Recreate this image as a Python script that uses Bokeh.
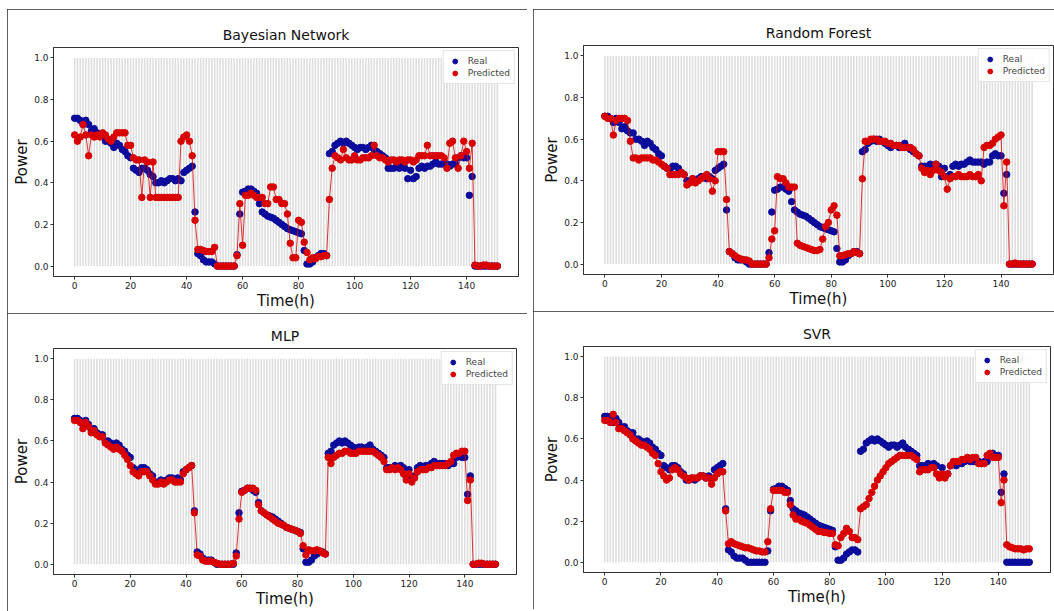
from bokeh.plotting import figure
from bokeh.models import Range1d, FixedTicker, PrintfTickFormatter, ColumnDataSource, Spacer
from bokeh.layouts import row, column
from bokeh.embed import file_html
from bokeh.resources import INLINE

hours = list(range(152))

real = [
    0.71, 0.71, 0.70, 0.68, 0.70, 0.68, 0.65, 0.66, 0.64, 0.63,
    0.63, 0.60, 0.60, 0.59, 0.57, 0.59, 0.58, 0.56, 0.55, 0.53,
    0.52, 0.47, 0.46, 0.45, 0.47, 0.47, 0.46, 0.44, 0.43, 0.40,
    0.40, 0.41, 0.40, 0.41, 0.42, 0.42, 0.41, 0.42, 0.41, 0.45,
    0.46, 0.47, 0.48, 0.26, 0.06, 0.05, 0.03, 0.02, 0.02, 0.02,
    0.01, 0.00, 0.00, 0.00, 0.00, 0.00, 0.00, 0.00, 0.055, 0.25,
    0.355, 0.36, 0.37, 0.37, 0.36, 0.35, 0.30, 0.26, 0.25, 0.24,
    0.235, 0.23, 0.22, 0.21, 0.20, 0.19, 0.18, 0.175, 0.17, 0.165,
    0.16, 0.155, 0.075, 0.01, 0.01, 0.02, 0.04, 0.05, 0.06, 0.06,
    0.05, 0.54, 0.55, 0.58, 0.59, 0.60, 0.59, 0.60, 0.59, 0.58,
    0.57, 0.56, 0.57, 0.57, 0.56, 0.57, 0.58, 0.56, 0.55, 0.54,
    0.53, 0.52, 0.47, 0.47, 0.47, 0.48, 0.47, 0.48, 0.47, 0.42,
    0.46, 0.42, 0.43, 0.47, 0.48, 0.47, 0.48, 0.48, 0.49, 0.50,
    0.49, 0.49, 0.49, 0.49, 0.48, 0.49, 0.49, 0.52, 0.53, 0.52,
    0.52, 0.34, 0.43, 0.0, 0.0, 0.0, 0.0, 0.0, 0.0, 0.0,
    0.0, 0.0,
]

pred_bn = [
    0.63, 0.60, 0.62, 0.68, 0.63, 0.53, 0.63, 0.62, 0.63, 0.62,
    0.64, 0.63, 0.61, 0.60, 0.62, 0.64, 0.64, 0.64, 0.64, 0.58,
    0.58, 0.52, 0.51, 0.51, 0.33, 0.51, 0.50, 0.33, 0.50, 0.33,
    0.33, 0.33, 0.33, 0.33, 0.33, 0.33, 0.33, 0.33, 0.60, 0.62,
    0.63, 0.60, 0.53, 0.22, 0.08, 0.08, 0.075, 0.07, 0.07, 0.07,
    0.09, 0.0, 0.0, 0.0, 0.0, 0.0, 0.0, 0.0, 0.05, 0.30,
    0.10, 0.34, 0.34, 0.35, 0.34, 0.33, 0.33, 0.33, 0.30, 0.30,
    0.38, 0.38, 0.32, 0.32, 0.30, 0.30, 0.25, 0.11, 0.04, 0.04,
    0.22, 0.21, 0.115, 0.065, 0.03, 0.04, 0.035, 0.045, 0.045, 0.05,
    0.05, 0.32, 0.47, 0.53, 0.52, 0.51, 0.56, 0.52, 0.51, 0.51,
    0.53, 0.51, 0.51, 0.52, 0.52, 0.52, 0.53, 0.58, 0.53, 0.52,
    0.52, 0.51, 0.50, 0.51, 0.51, 0.50, 0.51, 0.51, 0.50, 0.51,
    0.51, 0.50, 0.51, 0.53, 0.53, 0.53, 0.58, 0.53, 0.53, 0.53,
    0.53, 0.53, 0.52, 0.47, 0.59, 0.60, 0.52, 0.47, 0.53, 0.60,
    0.55, 0.47, 0.59, 0.005, 0.0, 0.0, 0.005, 0.005, 0.0, 0.0,
    0.0, 0.0,
]

pred_rf = [
    0.71, 0.70, 0.70, 0.62, 0.69, 0.70, 0.70, 0.70, 0.69, 0.59,
    0.51, 0.51, 0.50, 0.51, 0.51, 0.51, 0.51, 0.50, 0.50, 0.49,
    0.48, 0.47, 0.46, 0.43, 0.43, 0.43, 0.43, 0.44, 0.43, 0.38,
    0.39, 0.41, 0.39, 0.40, 0.41, 0.42, 0.43, 0.41, 0.35, 0.40,
    0.54, 0.54, 0.54, 0.31, 0.06, 0.05, 0.04, 0.03, 0.025, 0.02,
    0.02, 0.015, 0.0, 0.0, 0.0, 0.0, 0.0, 0.0, 0.03, 0.12,
    0.16, 0.42, 0.41, 0.41, 0.39, 0.37, 0.37, 0.37, 0.10, 0.09,
    0.085, 0.08, 0.075, 0.07, 0.065, 0.065, 0.07, 0.12, 0.18, 0.20,
    0.26, 0.28, 0.235, 0.04, 0.04, 0.045, 0.05, 0.05, 0.06, 0.055,
    0.05, 0.41, 0.59, 0.59, 0.60, 0.60, 0.60, 0.59, 0.59, 0.59,
    0.58, 0.58, 0.57, 0.57, 0.57, 0.56, 0.56, 0.56, 0.56, 0.55,
    0.53, 0.52, 0.46, 0.44, 0.45, 0.43, 0.45, 0.48, 0.45, 0.44,
    0.42, 0.36, 0.41, 0.42, 0.42, 0.43, 0.42, 0.42, 0.42, 0.43,
    0.42, 0.42, 0.43, 0.40, 0.56, 0.57, 0.57, 0.58, 0.60, 0.61,
    0.62, 0.28, 0.49, 0.0, 0.0, 0.005, 0.0, 0.0, 0.0, 0.0,
    0.0, 0.0,
]

pred_mlp = [
    0.70, 0.70, 0.69, 0.66, 0.69, 0.67, 0.64, 0.65, 0.63, 0.62,
    0.62, 0.59, 0.58, 0.57, 0.56, 0.57, 0.56, 0.55, 0.53, 0.51,
    0.48, 0.45, 0.44, 0.43, 0.45, 0.45, 0.45, 0.43, 0.41, 0.39,
    0.39, 0.40, 0.39, 0.40, 0.41, 0.41, 0.40, 0.40, 0.40, 0.44,
    0.46, 0.47, 0.48, 0.25, 0.045, 0.04, 0.02, 0.015, 0.015, 0.015,
    0.01, 0.005, 0.0, 0.0, 0.0, 0.0, 0.0, 0.005, 0.04, 0.22,
    0.35, 0.36, 0.37, 0.37, 0.37, 0.36, 0.29, 0.26, 0.25, 0.24,
    0.23, 0.22, 0.21, 0.20, 0.195, 0.19, 0.18, 0.175, 0.17, 0.165,
    0.16, 0.15, 0.09, 0.045, 0.07, 0.065, 0.065, 0.07, 0.065, 0.055,
    0.05, 0.52, 0.49, 0.52, 0.53, 0.54, 0.54, 0.55, 0.55, 0.54,
    0.54, 0.54, 0.55, 0.55, 0.55, 0.55, 0.55, 0.55, 0.54, 0.53,
    0.52, 0.50, 0.46, 0.46, 0.47, 0.46, 0.47, 0.46, 0.44, 0.41,
    0.44, 0.40, 0.42, 0.45, 0.46, 0.46, 0.46, 0.47, 0.47, 0.48,
    0.48, 0.48, 0.48, 0.48, 0.49, 0.50, 0.53, 0.54, 0.54, 0.55,
    0.55, 0.31, 0.41, 0.0, 0.0, 0.005, 0.005, 0.0, 0.0, 0.0,
    0.0, 0.0,
]

pred_svr = [
    0.69, 0.69, 0.68, 0.72, 0.68, 0.65, 0.65, 0.64, 0.63, 0.62,
    0.60, 0.59, 0.58, 0.57, 0.57, 0.56, 0.55, 0.53, 0.52, 0.48,
    0.44, 0.42, 0.40, 0.41, 0.45, 0.46, 0.45, 0.43, 0.42, 0.41,
    0.40, 0.41, 0.41, 0.41, 0.42, 0.42, 0.41, 0.41, 0.38, 0.41,
    0.43, 0.44, 0.44, 0.25, 0.09, 0.10, 0.09, 0.085, 0.08, 0.075,
    0.07, 0.07, 0.065, 0.06, 0.055, 0.055, 0.05, 0.05, 0.10, 0.26,
    0.35, 0.35, 0.35, 0.35, 0.34, 0.34, 0.28, 0.23, 0.21, 0.21,
    0.20, 0.195, 0.19, 0.18, 0.17, 0.16, 0.15, 0.15, 0.145, 0.145,
    0.14, 0.14, 0.085, 0.08, 0.12, 0.14, 0.165, 0.15, 0.12, 0.12,
    0.11, 0.26, 0.27, 0.28, 0.31, 0.34, 0.37, 0.40, 0.42, 0.44,
    0.46, 0.48, 0.49, 0.50, 0.51, 0.52, 0.52, 0.52, 0.52, 0.52,
    0.51, 0.50, 0.44, 0.45, 0.45, 0.45, 0.46, 0.46, 0.43, 0.41,
    0.43, 0.41, 0.43, 0.47, 0.49, 0.49, 0.49, 0.50, 0.50, 0.51,
    0.50, 0.51, 0.51, 0.48, 0.48, 0.48, 0.52, 0.53, 0.51, 0.51,
    0.51, 0.29, 0.40, 0.085, 0.075, 0.07, 0.065, 0.065, 0.065, 0.06,
    0.065, 0.065,
]

titles = ["Bayesian Network", "Random Forest", "MLP", "SVR"]
x_ticks = [0, 20, 40, 60, 80, 100, 120, 140]
y_ticks = [0.0, 0.2, 0.4, 0.6, 0.8, 1.0]

FONT = "DejaVu Sans"
BLUE = "#0b0b9c"
RED = "#d80000"


def make_panel(title, pred, fw, fh, bl, br, bt, bb):
    src = ColumnDataSource(dict(t=hours, real=real, pred=pred))
    p = figure(
        frame_width=fw, frame_height=fh,
        min_border_left=bl, min_border_right=br,
        min_border_top=bt, min_border_bottom=bb,
        x_range=Range1d(-7.55, 158.55), y_range=Range1d(-0.05, 1.05),
        output_backend="svg", toolbar_location=None, title=title,
        styles={"outline": "1px solid #2a2a2a", "outline-offset": "-1px"},
    )
    p.segment(x0="t", y0=0, x1="t", y1=1, source=src,
              line_color="#dedede", line_width=1.6)
    p.scatter("t", "real", source=src, size=6.5, color=BLUE,
              legend_label="Real")
    p.line("t", "pred", source=src, line_color=RED, line_width=0.8)
    p.scatter("t", "pred", source=src, size=6.5, color=RED,
              legend_label="Predicted")

    p.title.align = "center"
    p.title.text_font = FONT
    p.title.text_font_style = "normal"
    p.title.text_font_size = "14px"
    p.title.text_color = "#111111"

    p.xgrid.visible = False
    p.ygrid.visible = False
    p.outline_line_color = "#333333"
    p.outline_line_width = 1

    p.xaxis.ticker = FixedTicker(ticks=x_ticks)
    p.yaxis.ticker = FixedTicker(ticks=y_ticks)
    p.yaxis.formatter = PrintfTickFormatter(format="%.1f")
    p.xaxis.axis_label = "Time(h)"
    p.yaxis.axis_label = "Power"
    for ax in (p.xaxis[0], p.yaxis[0]):
        ax.axis_line_color = "#333333"
        ax.major_tick_line_color = "#333333"
        ax.minor_tick_line_color = None
        ax.major_tick_out = 3
        ax.major_tick_in = 0
        ax.major_label_standoff = 2
        ax.major_label_text_font = FONT
        ax.major_label_text_font_size = "9px"
        ax.major_label_text_color = "#222222"
        ax.axis_label_text_font = FONT
        ax.axis_label_text_font_size = "15px"
        ax.axis_label_text_font_style = "normal"
        ax.axis_label_text_color = "#111111"
        ax.axis_label_standoff = 0

    lg = p.legend[0]
    lg.location = "top_right"
    lg.margin = 3
    lg.padding = 4
    lg.spacing = 0
    lg.label_text_font = FONT
    lg.label_text_font_size = "9px"
    lg.label_height = 12
    lg.glyph_height = 12
    lg.glyph_width = 14
    lg.label_standoff = 6
    lg.border_line_color = "#cccccc"
    lg.background_fill_alpha = 0.9
    return p


p1 = make_panel(titles[0], pred_bn, 465, 229, 46, 9, 38, 37)
p3 = make_panel(titles[2], pred_mlp, 463, 226, 46, 11, 35, 37)
p2 = make_panel(titles[1], pred_rf, 470, 229, 44, 7, 36, 37)
p4 = make_panel(titles[3], pred_svr, 467, 226, 50, 4, 35, 37)

layout = column(
    Spacer(height=9),
    row(Spacer(width=7), column(p1, p3), Spacer(width=6), column(p2, p4)),
)

open("out.html", "w").write(file_html(layout, INLINE))
